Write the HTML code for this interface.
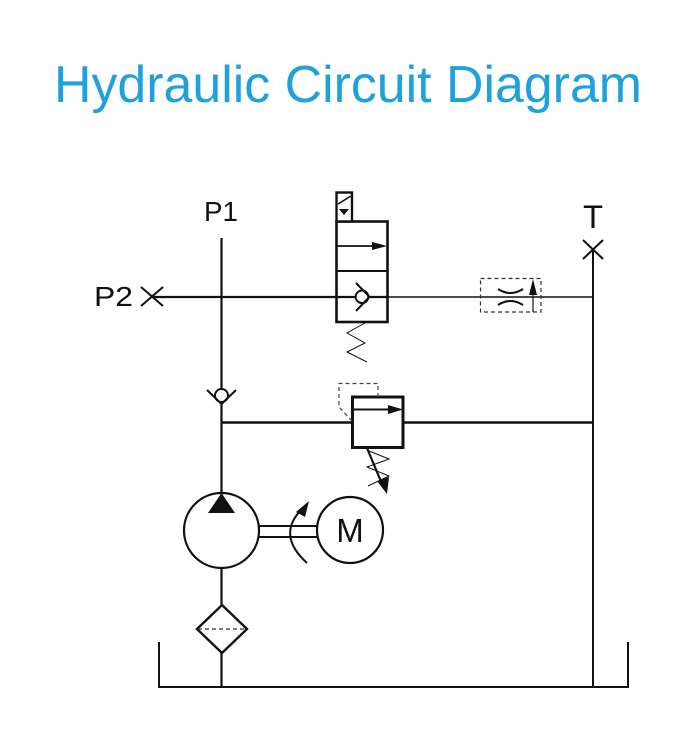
<!DOCTYPE html>
<html>
<head>
<meta charset="utf-8">
<style>
html,body{margin:0;padding:0;background:#fff;}
svg{display:block;}
text{font-family:"Liberation Sans",Arial,sans-serif;}
</style>
</head>
<body>
<svg width="700" height="755" viewBox="0 0 700 755" xmlns="http://www.w3.org/2000/svg">
  <rect width="700" height="755" fill="#fff"/>
  <!-- Title -->
  <text x="348" y="102" font-size="52" fill="#1fa2dc" text-anchor="middle" textLength="588" lengthAdjust="spacingAndGlyphs">Hydraulic Circuit Diagram</text>

  <text x="204" y="221" font-size="28" fill="#111" textLength="34" lengthAdjust="spacingAndGlyphs">P1</text>
  <text x="94" y="306" font-size="28" fill="#111" textLength="39" lengthAdjust="spacingAndGlyphs">P2</text>
  <text x="583" y="228" font-size="32" fill="#111" textLength="20" lengthAdjust="spacingAndGlyphs">T</text>
  <text x="350" y="542" font-size="33" fill="#111" text-anchor="middle">M</text>

  <g stroke="#111" fill="none">
    <!-- P2 X -->
    <line x1="141" y1="287" x2="163" y2="306" stroke-width="2"/>
    <line x1="141" y1="306" x2="163" y2="287" stroke-width="2"/>
    <!-- T X -->
    <line x1="583" y1="240" x2="603" y2="259" stroke-width="2"/>
    <line x1="583" y1="259" x2="603" y2="240" stroke-width="2"/>

    <!-- P2 main line -->
    <line x1="152" y1="297" x2="388" y2="297" stroke-width="2.2"/>
    <line x1="388" y1="297" x2="593" y2="297" stroke-width="1.6"/>

    <!-- P1 vertical line -->
    <line x1="221.5" y1="238" x2="221.5" y2="493" stroke-width="2.2"/>
    <line x1="221.5" y1="568" x2="221.5" y2="605" stroke-width="2.2"/>
    <line x1="221.5" y1="652" x2="221.5" y2="687" stroke-width="2.2"/>

    <!-- T vertical line -->
    <line x1="593" y1="250" x2="593" y2="687" stroke-width="2"/>

    <!-- relief horizontal line -->
    <line x1="221.5" y1="422.5" x2="352" y2="422.5" stroke-width="2.4"/>
    <line x1="403" y1="422.5" x2="593" y2="422.5" stroke-width="2.4"/>

    <!-- Tank -->
    <polyline points="159,642 159,687 628,687 628,642" stroke-width="2"/>

    <!-- Directional valve -->
    <rect x="336.5" y="221.5" width="51" height="100.5" stroke-width="2.6" fill="none"/>
    <line x1="336.5" y1="271" x2="387.5" y2="271" stroke-width="2"/>
    <line x1="336.5" y1="246" x2="378" y2="246" stroke-width="1.8"/>
    <!-- solenoid -->
    <rect x="336.5" y="192.5" width="15.5" height="29" stroke-width="2.4" fill="#fff"/>
    <line x1="338" y1="204" x2="351" y2="196" stroke-width="1.6"/>
    <!-- check valve inside -->
    <circle cx="362" cy="296.8" r="6.3" stroke-width="2" fill="#fff"/>
    <polyline points="356,283 369.5,296.8 356,311" stroke-width="2"/>
    <!-- spring -->
    <polyline points="365,323 347,333 365,343 347,352 367,362" stroke-width="1"/>

    <!-- Throttle dashed box -->
    <rect x="480.5" y="278.5" width="60.5" height="33.5" stroke-width="1.2" stroke-dasharray="4,3" stroke="#333"/>
    <path d="M498,289 Q510.5,297 523,289" stroke-width="2"/>
    <path d="M498,305 Q510.5,297 523,305" stroke-width="2"/>
    <line x1="533" y1="312" x2="533" y2="292" stroke-width="1.2"/>

    <!-- Check valve on P1 -->
    <circle cx="221.5" cy="395.5" r="6.5" stroke-width="2" fill="#fff"/>
    <polyline points="207,390 221.5,404 236,390" stroke-width="2"/>

    <!-- Relief valve -->
    <rect x="352.5" y="397" width="50.5" height="50.5" stroke-width="3" fill="#fff"/>
    <line x1="352.5" y1="409.5" x2="392" y2="409.5" stroke-width="2"/>
    <polyline points="378,397 378,383.5 339,383.5 339,407 352,421" stroke-width="1.2" stroke-dasharray="4,3" stroke="#444"/>
    <line x1="367" y1="448" x2="382" y2="484" stroke-width="2.2"/>
    <polyline points="369,451 389,459 367,467 389,476 368,486" stroke-width="1"/>

    <!-- Pump -->
    <circle cx="221.5" cy="530.5" r="37.5" stroke-width="2.2" fill="#fff"/>
    <!-- shaft -->
    <line x1="259" y1="526" x2="318" y2="526" stroke-width="2"/>
    <line x1="259" y1="537" x2="318" y2="537" stroke-width="2"/>
    <!-- Motor -->
    <circle cx="350" cy="530" r="33" stroke-width="2.2"/>
    <!-- rotation arrow -->
    <path d="M307,563 Q276,535 302,509" stroke-width="2"/>

    <!-- Filter -->
    <polygon points="222,605 247,629 222,653 197,629" stroke-width="2.4" fill="#fff"/>
    <line x1="198" y1="629" x2="246" y2="629" stroke-width="1.2" stroke-dasharray="4,3" stroke="#333"/>
  </g>

  <!-- filled arrowheads / triangles -->
  <g fill="#111" stroke="none">
    <polygon points="339,209 349,209 344,215"/>
    <polygon points="372,242 387,246 372,250"/>
    <polygon points="529,295 533,279 537,295"/>
    <polygon points="388,405 403,409.5 388,414"/>
    <polygon points="377,481 387,494 389,477"/>
    <polygon points="208,513 221.5,493 235,513"/>
    <polygon points="296,512 309,501 305,517"/>
  </g>
</svg>
</body>
</html>
